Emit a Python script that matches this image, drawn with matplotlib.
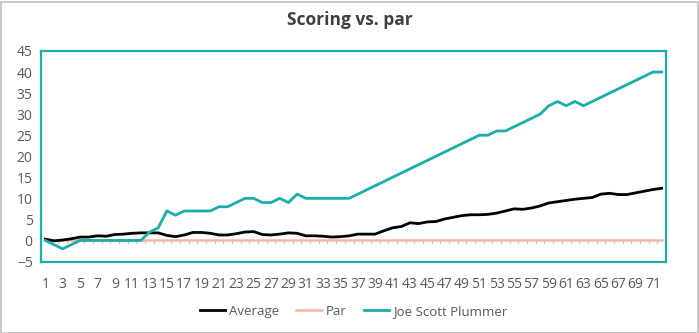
import matplotlib
matplotlib.use('Agg')
import matplotlib.pyplot as plt
from matplotlib.patches import Rectangle

plt.rcParams['font.family'] = ['Open Sans', 'DejaVu Sans']

holes = list(range(1, 73))

average = [0.3, -0.1, 0.1, 0.4, 0.8, 0.8, 1.1, 1.0, 1.4, 1.5,
           1.7, 1.8, 1.8, 1.8, 1.2, 0.9, 1.3, 1.9, 1.9, 1.7,
           1.3, 1.3, 1.6, 2.0, 2.1, 1.4, 1.3, 1.5, 1.8, 1.7,
           1.1, 1.1, 1.0, 0.8, 0.9, 1.1, 1.5, 1.5, 1.5, 2.3,
           3.0, 3.3, 4.2, 4.0, 4.4, 4.5, 5.1, 5.5, 5.9, 6.1,
           6.1, 6.2, 6.5, 7.0, 7.5, 7.4, 7.7, 8.2, 8.9, 9.2,
           9.5, 9.8, 10.0, 10.2, 11.0, 11.2, 10.9, 10.9, 11.3, 11.7,
           12.1, 12.4]

par = [0] * 72

plummer = [0, -1, -2, -1, 0, 0, 0, 0, 0, 0,
           0, 0, 2, 3, 7, 6, 7, 7, 7, 7,
           8, 8, 9, 10, 10, 9, 9, 10, 9, 11,
           10, 10, 10, 10, 10, 10, 11, 12, 13, 14,
           15, 16, 17, 18, 19, 20, 21, 22, 23, 24,
           25, 25, 26, 26, 27, 28, 29, 30, 32, 33,
           32, 33, 32, 33, 34, 35, 36, 37, 38, 39,
           40, 40]

tick_labels = [str(h) if h % 2 == 1 else '' for h in holes]

text_col = '#595959'
teal = '#1AAFA8'

fig = plt.figure(figsize=(6.99, 3.33), dpi=100)
ax = fig.add_axes([41 / 699, 1 - 261.5 / 333, 625 / 699, 210.5 / 333])

ax.plot(holes, average, color='black', lw=2.0, label='Average', zorder=4)
ax.plot(holes, par, color='#F4B6A6', lw=1.8, label='Par', zorder=3)
ax.plot(holes, plummer, color=teal, lw=2.0, label='Joe Scott Plummer', zorder=5)

ax.set_xlim(0.5, 72.5)
ax.set_ylim(-5, 45)
ax.set_yticks(range(-5, 46, 5))
ax.tick_params(axis='y', length=0, labelsize=10, labelcolor=text_col, pad=6)

# category axis crosses at 0: small ticks under the zero line, labels at bottom
ax.set_xticks(holes)
ax.set_xticklabels(tick_labels)
ax.tick_params(axis='x', length=0, labelsize=10, labelcolor=text_col, pad=11)
for h in range(1, 73):
    ax.plot([h + 0.5, h + 0.5], [0, -0.7], color='#BFBFBF', lw=0.8, zorder=2,
            clip_on=False)

for side in ax.spines.values():
    side.set_color(teal)
    side.set_linewidth(1.6)

fig.text(0.5, 1 - 20 / 333, 'Scoring vs. par', ha='center', va='center',
         fontsize=12.5, fontweight='bold', color='#404040')

leg = ax.legend(loc='center', bbox_to_anchor=(0.5, -0.237), ncol=3, frameon=False,
                fontsize=9.5, handlelength=1.9, handletextpad=0.3, columnspacing=1.3)
for t in leg.get_texts():
    t.set_color(text_col)

fig.patches.append(Rectangle((0.5 / 699, 0.5 / 333), 697 / 699, 331 / 333,
                             transform=fig.transFigure, fill=False,
                             edgecolor='#BFBFBF', lw=1.2))

fig.savefig('out.png', dpi=100)
